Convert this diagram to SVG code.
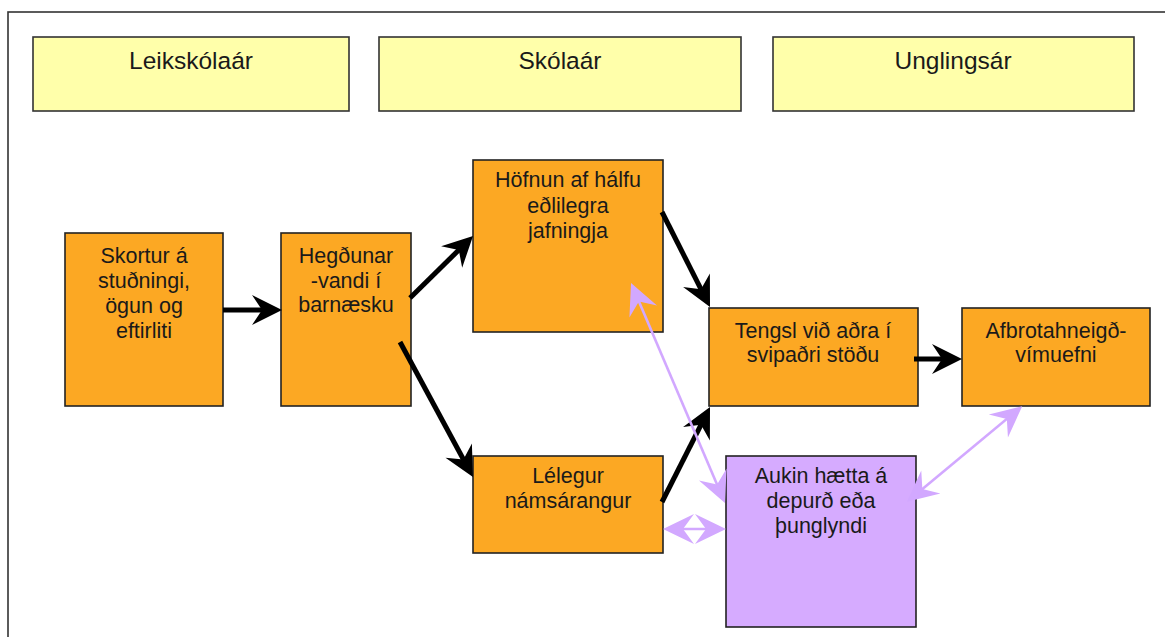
<svg xmlns="http://www.w3.org/2000/svg" width="1165" height="637" viewBox="0 0 1165 637">
<style>
.hdr{fill:#FFFFAA;stroke:#333;stroke-width:1.6}
.box{fill:#FCA823;stroke:#222;stroke-width:1.6}
.pbox{fill:#D6ABFF;stroke:#222;stroke-width:1.6}
.ht{font-family:"Liberation Sans",Arial,sans-serif;font-size:24.5px;fill:#1a1a1a;text-anchor:middle}
.t{font-family:"Liberation Sans",Arial,sans-serif;font-size:21.5px;fill:#1a1a1a;text-anchor:middle}
.blk{stroke:#000;stroke-width:5;fill:none;marker-end:url(#bh)}
.pur{stroke:#D2A8FF;stroke-width:2.6;fill:none;marker-start:url(#ph);marker-end:url(#ph)}
</style>
<defs>
<marker id="bh" markerUnits="userSpaceOnUse" viewBox="-31 -16 32 32" markerWidth="32" markerHeight="32" refX="-10" refY="0" orient="auto">
<path d="M0,0 L-30,-15 L-20,0 L-30,15 Z" fill="#000"/>
</marker>
<marker id="ph" markerUnits="userSpaceOnUse" viewBox="-32 -16 33 32" markerWidth="33" markerHeight="32" refX="-6" refY="0" orient="auto-start-reverse">
<path d="M0,0 L-31,-15 L-20,0 L-31,15 Z" fill="#D2A8FF"/>
</marker>
</defs>
<rect width="1165" height="637" fill="#fff"/>
<rect x="8" y="12" width="1200" height="700" fill="none" stroke="#333" stroke-width="1.6"/>
<g id="h1"><rect class="hdr" x="33" y="37" width="316" height="74"/><text class="ht" x="191" y="69">Leikskólaár</text></g>
<g id="h2"><rect class="hdr" x="379" y="37" width="362" height="74"/><text class="ht" x="560" y="69">Skólaár</text></g>
<g id="h3"><rect class="hdr" x="773" y="37" width="361" height="74"/><text class="ht" x="953" y="69">Unglingsár</text></g>
<g id="skortur"><rect class="box" x="65" y="233" width="158" height="173"/>
<text class="t" x="144" y="263">Skortur á</text><text class="t" x="144" y="288">stuðningi,</text><text class="t" x="144" y="313">ögun og</text><text class="t" x="144" y="338">eftirliti</text></g>
<g id="hegdunar"><rect class="box" x="281" y="233" width="130" height="173"/>
<text class="t" x="346" y="263">Hegðunar</text><text class="t" x="346" y="288">-vandi í</text><text class="t" x="346" y="312">barnæsku</text></g>
<g id="hofnun"><rect class="box" x="473" y="160" width="190" height="172"/>
<text class="t" x="568" y="187">Höfnun af hálfu</text><text class="t" x="568" y="213">eðlilegra</text><text class="t" x="568" y="238">jafningja</text></g>
<g id="tengsl"><rect class="box" x="709" y="308" width="209" height="98"/>
<text class="t" x="813" y="338">Tengsl við aðra í</text><text class="t" x="813" y="362">svipaðri stöðu</text></g>
<g id="afbrot"><rect class="box" x="962" y="308" width="188" height="98"/>
<text class="t" x="1056" y="338">Afbrotahneigð-</text><text class="t" x="1056" y="362">vímuefni</text></g>
<g id="lelegur"><rect class="box" x="473" y="456" width="190" height="97"/>
<text class="t" x="568" y="483">Lélegur</text><text class="t" x="568" y="508">námsárangur</text></g>
<g id="aukin"><rect class="pbox" x="726" y="456" width="190" height="171"/>
<text class="t" x="821" y="483">Aukin hætta á</text><text class="t" x="821" y="508">depurð eða</text><text class="t" x="821" y="533">þunglyndi</text></g>
<g id="connectors">
<path class="blk" d="M223,310 L272,310"/>
<path class="blk" d="M410,298 L465.9,243"/>
<path class="blk" d="M400,342 L468.2,468.2"/>
<path class="blk" d="M662,212 L705.5,298.1"/>
<path class="blk" d="M662,502 L705.5,415.9"/>
<path class="blk" d="M914,359 L952,359"/>
<path class="pur" d="M633.4,288.5 L722.6,497.5"/>
<path class="pur" d="M1017.6,410 L911.6,498"/>
<path class="pur" d="M669,529 L720,529"/>
</g>
</svg>
